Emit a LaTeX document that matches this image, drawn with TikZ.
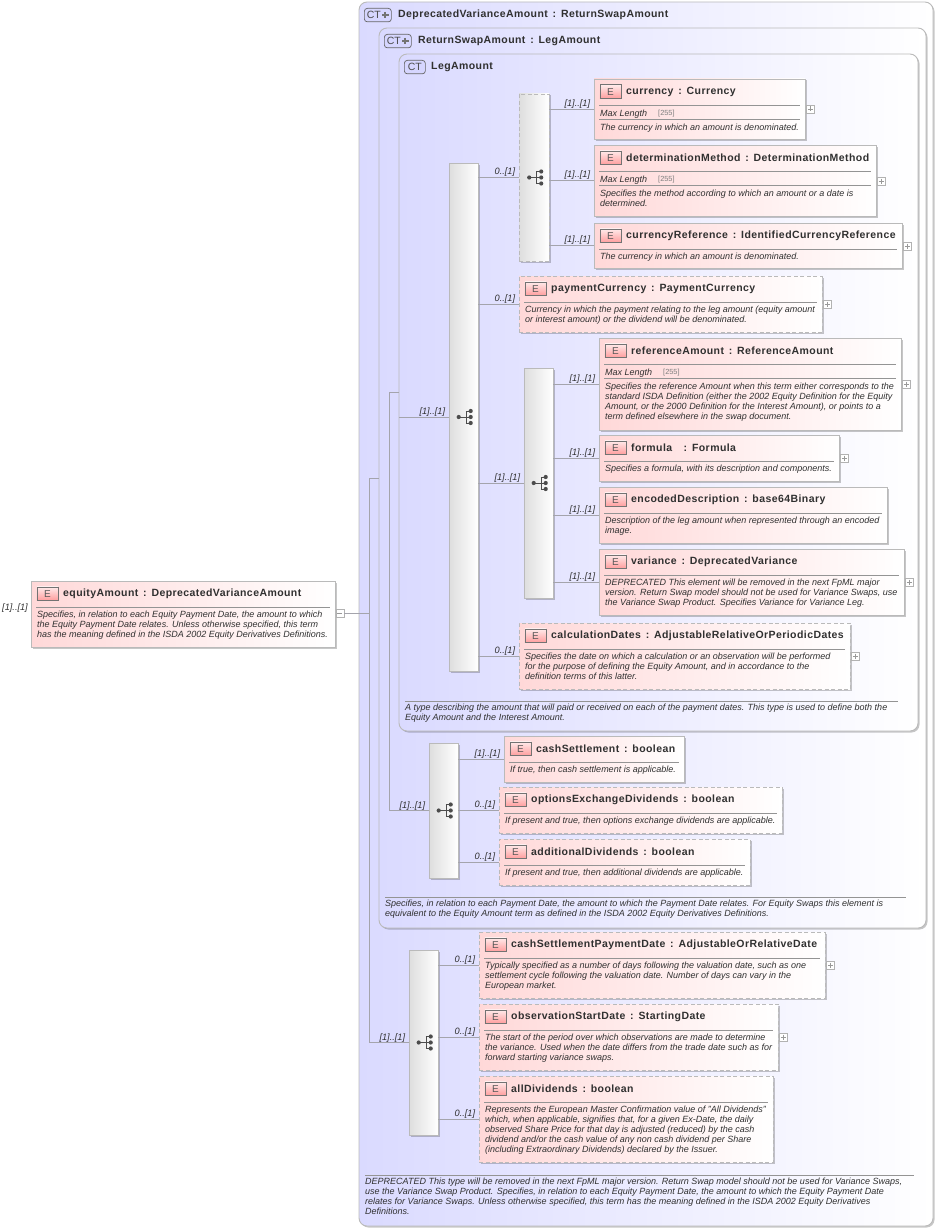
\documentclass[tikz,border=0pt]{standalone}
\usepackage{fontspec}
\setmainfont{Liberation Sans}
\newfontfamily\ttlfont[LetterSpace=4]{Liberation Sans}
\usetikzlibrary{shadows,calc}
\definecolor{linegray}{HTML}{A4A4AC}
\definecolor{edgegray}{HTML}{BABABA}
\definecolor{textgray}{HTML}{303030}
\definecolor{ctleft}{HTML}{DADAFF}
\definecolor{elleft}{HTML}{FFD8D8}
\newcommand\cln{\hspace{1.5pt}~:~\hspace{1.5pt}}
\tikzset{
 x=1pt,y=-1pt,
 softshadow/.style={drop shadow={shadow xshift=1.5pt,shadow yshift=-1.5pt,fill=black,opacity=.22}},
 boxbase/.style={anchor=north west,inner sep=0pt,outer sep=0pt,line width=.9pt,draw=edgegray,softshadow},
 elembox/.style={boxbase,left color=elleft,right color=white},
 ctbox/.style={boxbase,left color=ctleft,right color=white,rounded corners=8pt},
 compbox/.style={boxbase,left color=black!13,right color=white},
 maybe/.style={dashed,draw=black!27,line width=.85pt,dash pattern=on 4pt off 2.5pt},
 conn/.style={draw=linegray,line width=.8pt},
 sepline/.style={draw=black!42,line width=.6pt},
 ttl/.style={anchor=west,inner sep=0pt,text=textgray,font=\ttlfont\bfseries\fontsize{10.5}{12}\selectfont},
 dsc/.style={anchor=north west,inner sep=0pt,align=left,text=textgray,font=\itshape\fontsize{9}{10}\selectfont},
 mult/.style={anchor=south east,inner sep=0pt,text=textgray,font=\itshape\fontsize{9.2}{10}\selectfont},
 eicon/.style={anchor=north west,inner sep=0pt,minimum width=21pt,minimum height=13.5pt,draw=black!55,line width=.7pt,top color=red!8!white,bottom color=red!38!white,text=black!65,font=\fontsize{10}{10}\selectfont},
 cticon/.style={anchor=north west,inner sep=0pt,minimum height=13.5pt,draw=black!60,line width=.7pt,rounded corners=3pt,fill=blue!16!white,text=black!70,font=\fontsize{10.5}{10}\selectfont},
 expbox/.style={anchor=west,inner sep=0pt,minimum width=8pt,minimum height=8pt,draw=black!30,line width=.6pt,fill=white},
 symbol/.style={draw=black!70,line width=.8pt},
 dotc/.style={circle,fill=black!70,inner sep=0pt,minimum size=4.2pt},
}
% name, x1, y1, x2, y2, title, desc ; optional = extra box options
\newcommand\elemhead[7][]{%
 \pgfmathsetmacro\bw{#4-#2}\pgfmathsetmacro\bh{#5-#3}%
 \node[elembox,#1,minimum width=\bw pt,minimum height=\bh pt] (#6) at (#2,#3) {};
 \node[eicon] (#6-icon) at ($(#2,#3)+(5.5,5.5)$) {E};
 \node[ttl] (#6-title) at ($(#2,#3)+(32,12.6)$) {#7};
 \draw[sepline] ($(#2,#3)+(5,26)$) -- ($(#4,#3)+(-5,26)$);
}
\newcommand\elem[8][]{%
 \elemhead[#1]{#2}{#3}{#4}{#5}{#6}{#7}%
 \node[dsc] (#6-desc) at ($(#2,#3)+(6,29.7)$) {#8};
}
\newcommand\elemmax[8][]{%
 \elemhead[#1]{#2}{#3}{#4}{#5}{#6}{#7}%
 \node[dsc] (#6-mx) at ($(#2,#3)+(6,30.6)$) {Max Length};
 \node[anchor=north west,inner sep=0pt,text=black!50,font=\fontsize{7.4}{9}\selectfont] (#6-mv) at ($(#2,#3)+(64,31)$) {[255]};
 \draw[sepline] ($(#2,#3)+(5,40)$) -- ($(#4,#3)+(-5,40)$);
 \node[dsc] (#6-desc) at ($(#2,#3)+(6,44.7)$) {#8};
}
% expander: owner name, x, y, sign(1 plus,0 minus)
\newcommand\expander[4]{%
 \node[expbox] (#1-exp) at (#2,#3) {};
 \draw[black!40,line width=.6pt] ($(#1-exp.center)+(-2.5,0)$) -- ($(#1-exp.center)+(2.5,0)$);
 \ifnum#4=1 \draw[black!40,line width=.6pt] ($(#1-exp.center)+(0,-2.5)$) -- ($(#1-exp.center)+(0,2.5)$);\fi
}
% compositor: name,x1,y1,x2,y2
\newcommand\comp[6][]{%
 \pgfmathsetmacro\bw{#4-#2}\pgfmathsetmacro\bh{#5-#3}%
 \node[compbox,#1,minimum width=\bw pt,minimum height=\bh pt] (#6) at (#2,#3) {};
 \coordinate (#6-c) at (#6.center);
 \draw[symbol] ($(#6-c)+(-4.8,0)$) -- ($(#6-c)+(7.2,0)$);
 \draw[symbol] ($(#6-c)+(2.4,-6)$) -- ($(#6-c)+(2.4,6)$);
 \draw[symbol] ($(#6-c)+(2.4,-6)$) -- ($(#6-c)+(7.2,-6)$);
 \draw[symbol] ($(#6-c)+(2.4,6)$) -- ($(#6-c)+(7.2,6)$);
 \node[dotc] at ($(#6-c)+(-4.8,0)$) {};
 \node[dotc] at ($(#6-c)+(7.2,-6)$) {};
 \node[dotc] at ($(#6-c)+(7.2,0)$) {};
 \node[dotc] at ($(#6-c)+(7.2,6)$) {};
}
% connector from source east to target west, with label
\newcommand\link[3]{%
 \draw[conn] (#1.east |- #2.west) -- (#2.west) node[mult,xshift=-3.5pt,yshift=.2pt] {#3};
}
\newcommand\plusmark[1]{%
 \draw[black!55,line width=2.2pt] ($(#1.center)+(7.5,-3.3)$) -- ($(#1.center)+(7.5,3.3)$) ($(#1.center)+(4.2,0)$) -- ($(#1.center)+(10.8,0)$);
}
\begin{document}
\begin{tikzpicture}
\useasboundingbox (0,0) rectangle (938,1228);
% CT frames
\node[ctbox,minimum width=574pt,minimum height=1224pt] (outer) at (359,2) {};
\node[cticon] (outer-icon) at (364,8) {\makebox[27pt][l]{\hspace{2.5pt}CT}};
\plusmark{outer-icon}
\node[ttl] (outer-title) at (398,14.8) {DeprecatedVarianceAmount\cln ReturnSwapAmount};
\node[ctbox,minimum width=547pt,minimum height=900pt] (mid) at (379,28) {};
\node[cticon] (mid-icon) at (384,34) {\makebox[27pt][l]{\hspace{2.5pt}CT}};
\plusmark{mid-icon}
\node[ttl] (mid-title) at (418,40.8) {ReturnSwapAmount\cln LegAmount};
\node[ctbox,minimum width=519pt,minimum height=677pt] (inner) at (399,54) {};
\node[cticon,minimum width=21pt] (inner-icon) at (404,60) {CT};
\node[ttl] (inner-title) at (431,66.8) {LegAmount};
% compositors
\comp{449}{163}{478}{671}{seqA}
\comp[maybe]{519}{94}{549}{261}{seqB}
\comp{524}{368}{553}{598}{seqC}
\comp{429}{743}{458}{878}{seqD}
\comp{409}{950}{438}{1135}{seqE}
% root element
\elem{31}{581}{335}{647}{equity}{equityAmount\cln DeprecatedVarianceAmount}{Specifies, in relation to each Equity Payment Date, the amount to which\\the Equity Payment Date relates. Unless otherwise specified, this term\\has the meaning defined in the ISDA 2002 Equity Derivatives Definitions.}
\expander{equity}{335.5}{613}{0}
% leg amount elements
\elemmax{594}{79}{805}{139}{currency}{currency\cln Currency}{The currency in which an amount is denominated.}
\expander{currency}{806}{109}{1}
\elemmax{594}{145}{876}{216}{detmethod}{determinationMethod\cln DeterminationMethod}{Specifies the method according to which an amount or a date is\\determined.}
\expander{detmethod}{877}{181}{1}
\elem{594}{223}{902}{268}{curref}{currencyReference\cln IdentifiedCurrencyReference}{The currency in which an amount is denominated.}
\expander{curref}{903}{246}{1}
\elem[maybe]{519}{276}{822}{332}{paycur}{paymentCurrency\cln PaymentCurrency}{Currency in which the payment relating to the leg amount (equity amount\\or interest amount) or the dividend will be denominated.}
\expander{paycur}{823}{304}{1}
\elemmax{599}{338}{901}{430}{refamt}{referenceAmount\cln ReferenceAmount}{Specifies the reference Amount when this term either corresponds to the\\standard ISDA Definition (either the 2002 Equity Definition for the Equity\\Amount, or the 2000 Definition for the Interest Amount), or points to a\\term defined elsewhere in the swap document.}
\expander{refamt}{902}{384}{1}
\elem{599}{435}{839}{481}{formula}{formula~~\cln Formula}{Specifies a formula, with its description and components.}
\expander{formula}{840}{458}{1}
\elem{599}{487}{887}{543}{encdesc}{encodedDescription\cln base64Binary}{Description of the leg amount when represented through an encoded\\image.}
\elem{599}{549}{904}{615}{variance}{variance\cln DeprecatedVariance}{DEPRECATED This element will be removed in the next FpML major\\version. Return Swap model should not be used for Variance Swaps, use\\the Variance Swap Product. Specifies Variance for Variance Leg.}
\expander{variance}{905}{582}{1}
\elem[maybe]{519}{623}{850}{689}{calcdates}{calculationDates\cln AdjustableRelativeOrPeriodicDates}{Specifies the date on which a calculation or an observation will be performed\\for the purpose of defining the Equity Amount, and in accordance to the\\definition terms of this latter.}
\expander{calcdates}{851}{656}{1}
\draw[sepline] (405,701) -- (898,701);
\node[dsc] (inner-desc) at (405,704) {A type describing the amount that will paid or received on each of the payment dates. This type is used to define both the\\Equity Amount and the Interest Amount.};
% return swap elements
\elem{504}{736}{684}{782}{cashset}{cashSettlement\cln boolean}{If true, then cash settlement is applicable.}
\elem[maybe]{499}{787}{782}{833}{optdiv}{optionsExchangeDividends\cln boolean}{If present and true, then options exchange dividends are applicable.}
\elem[maybe]{499}{839}{750}{885}{adddiv}{additionalDividends\cln boolean}{If present and true, then additional dividends are applicable.}
\draw[sepline] (385,897) -- (906,897);
\node[dsc] (mid-desc) at (385,900) {Specifies, in relation to each Payment Date, the amount to which the Payment Date relates. For Equity Swaps this element is\\equivalent to the Equity Amount term as defined in the ISDA 2002 Equity Derivatives Definitions.};
% deprecated variance elements
\elem[maybe]{479}{932}{825}{998}{cspd}{cashSettlementPaymentDate\cln AdjustableOrRelativeDate}{Typically specified as a number of days following the valuation date, such as one\\settlement cycle following the valuation date. Number of days can vary in the\\European market.}
\expander{cspd}{826}{965}{1}
\elem[maybe]{479}{1004}{778}{1070}{obsstart}{observationStartDate\cln StartingDate}{The start of the period over which observations are made to determine\\the variance. Used when the date differs from the trade date such as for\\forward starting variance swaps.}
\expander{obsstart}{779}{1037}{1}
\elem[maybe]{479}{1076}{773}{1162}{alldiv}{allDividends\cln boolean}{Represents the European Master Confirmation value of "All Dividends"\\which, when applicable, signifies that, for a given Ex-Date, the daily\\observed Share Price for that day is adjusted (reduced) by the cash\\dividend and/or the cash value of any non cash dividend per Share\\(including Extraordinary Dividends) declared by the Issuer.}
\draw[sepline] (365,1175) -- (914,1175);
\node[dsc] (outer-desc) at (365,1178) {DEPRECATED This type will be removed in the next FpML major version. Return Swap model should not be used for Variance Swaps,\\use the Variance Swap Product. Specifies, in relation to each Equity Payment Date, the amount to which the Equity Payment Date\\relates for Variance Swaps. Unless otherwise specified, this term has the meaning defined in the ISDA 2002 Equity Derivatives\\Definitions.};
% root multiplicity
\node[mult,anchor=east] (rootmult) at (28,608.3) {[1]..[1]};
% trunks
\coordinate (tA) at (369,613);
\coordinate (tB) at (389,477);
\draw[conn] (equity-exp.east) -- (tA);
\draw[conn] (tA |- mid.west) -- (tA |- seqE.west);
\draw[conn] (tA |- mid.west) -- (mid.west);
\draw[conn] (tB |- inner.west) -- (tB |- seqD.west);
\draw[conn] (tB |- inner.west) -- (inner.west);
\draw[conn] (inner.west |- seqA.west) -- (seqA.west) node[mult,xshift=-3.5pt,yshift=.2pt] {[1]..[1]};
\draw[conn] (tB |- seqD.west) -- (seqD.west) node[mult,xshift=-3.5pt,yshift=.2pt] {[1]..[1]};
\draw[conn] (tA |- seqE.west) -- (seqE.west) node[mult,xshift=-3.5pt,yshift=.2pt] {[1]..[1]};
% connectors
\link{seqA}{seqB}{0..[1]}
\link{seqB}{currency}{[1]..[1]}
\link{seqB}{detmethod}{[1]..[1]}
\link{seqB}{curref}{[1]..[1]}
\link{seqA}{paycur}{0..[1]}
\link{seqA}{seqC}{[1]..[1]}
\link{seqC}{refamt}{[1]..[1]}
\link{seqC}{formula}{[1]..[1]}
\link{seqC}{encdesc}{[1]..[1]}
\link{seqC}{variance}{[1]..[1]}
\link{seqA}{calcdates}{0..[1]}
\link{seqD}{cashset}{[1]..[1]}
\link{seqD}{optdiv}{0..[1]}
\link{seqD}{adddiv}{0..[1]}
\link{seqE}{cspd}{0..[1]}
\link{seqE}{obsstart}{0..[1]}
\link{seqE}{alldiv}{0..[1]}
\end{tikzpicture}
\end{document}
